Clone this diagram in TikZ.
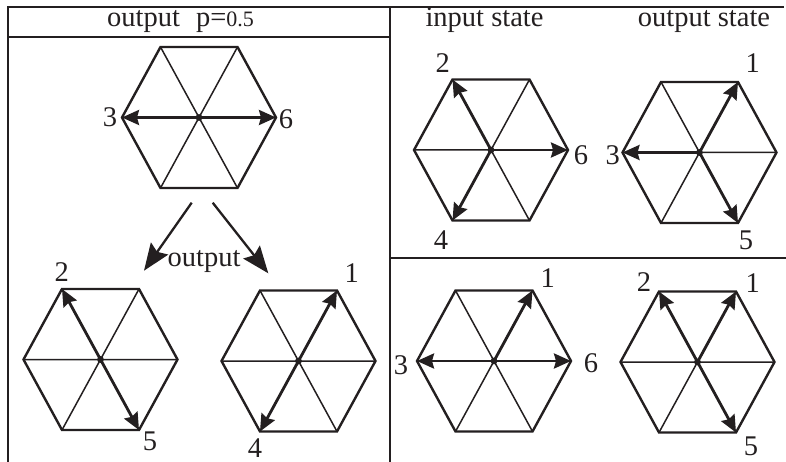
\documentclass[tikz,border=0pt]{standalone}
\usepackage{fontspec}
\setmainfont{Liberation Serif}
\usetikzlibrary{arrows.meta}
\definecolor{ink}{RGB}{35,31,32}
\tikzset{
  frameline/.style={draw=ink,line width=2.2pt},
  hexline/.style={draw=ink,line width=2.4pt,line join=miter},
  spoke/.style={draw=ink,line width=1.5pt},
  vec/.style={draw=ink,line width=2.8pt,-{Stealth[length=17pt,width=15pt,inset=2pt]}},
  bigarrow/.style={draw=ink,line width=2.3pt,-{Stealth[length=27pt,width=21pt,inset=4pt]}},
  lbl/.style={text=ink,font=\fontsize{28.5}{30}\selectfont,inner sep=0pt},
}
\newcommand{\mkhex}[3]{%
  \coordinate (#1-c) at (#2,#3);
  \coordinate (#1-1) at ({#2+38.5},{#3-70.5});
  \coordinate (#1-2) at ({#2-38.5},{#3-70.5});
  \coordinate (#1-3) at ({#2-77},{#3});
  \coordinate (#1-4) at ({#2-38.5},{#3+70.5});
  \coordinate (#1-5) at ({#2+38.5},{#3+70.5});
  \coordinate (#1-6) at ({#2+77},{#3});
  \draw[spoke] (#1-1)--(#1-4) (#1-2)--(#1-5) (#1-3)--(#1-6);
  \draw[hexline] (#1-1)--(#1-2)--(#1-3)--(#1-4)--(#1-5)--(#1-6)--cycle;
  \fill[ink] (#1-c) circle[radius=3.4pt];
}
\begin{document}
\begin{tikzpicture}[x=1pt,y=-1pt]
\useasboundingbox (0,0) rectangle (786,462);
% frame
\draw[frameline] (8,462) -- (8,7) -- (784,7);
\draw[frameline] (8,37) -- (390,37);
\draw[frameline] (390,7) -- (390,462);
\draw[frameline] (390,258) -- (786,258);
% headers
\node[lbl,anchor=base] (t1) at (180.5,27) {output\hspace{16pt}p=\fontsize{22}{24}\selectfont 0.5};
\node[lbl,anchor=base] (t2) at (484.5,27) {input state};
\node[lbl,anchor=base] (t3) at (704,27) {output state};
% hexagons
\mkhex{A}{199}{117.5}
\mkhex{B}{491}{150}
\mkhex{C}{699.5}{152.5}
\mkhex{D}{100.5}{359.5}
\mkhex{E}{298.5}{361}
\mkhex{F}{494}{361}
\mkhex{G}{697.5}{362}
% vectors
\draw[vec] (A-c) -- (A-3);
\draw[vec] (A-c) -- (A-6);
\draw[vec] (B-c) -- (B-2);
\draw[vec] (B-c) -- (B-6);
\draw[vec] (B-c) -- (B-4);
\draw[vec] (C-c) -- (C-1);
\draw[vec] (C-c) -- (C-3);
\draw[vec] (C-c) -- (C-5);
\draw[vec] (D-c) -- (D-2);
\draw[vec] (D-c) -- (D-5);
\draw[vec] (E-c) -- (E-1);
\draw[vec] (E-c) -- (E-4);
\draw[vec] (F-c) -- (F-1);
\draw[vec] (F-c) -- (F-3);
\draw[vec] (F-c) -- (F-6);
\draw[vec] (G-c) -- (G-2);
\draw[vec] (G-c) -- (G-1);
\draw[vec] (G-c) -- (G-5);
% branching arrows
\coordinate (s1) at (191.7,202.7);
\coordinate (e1) at (144,270.7);
\coordinate (s2) at (212.7,202.7);
\coordinate (e2) at (268.3,273.3);
\draw[bigarrow] (s1) -- (e1);
\draw[bigarrow] (s2) -- (e2);
\node[lbl,anchor=base] (mid) at (204,266.7) {output};
% digit labels
\node[lbl] (A3) at (110,117) {3};
\node[lbl] (A6) at (286,119) {6};
\node[lbl] (B2) at (442.7,63) {2};
\node[lbl] (B6) at (581,155) {6};
\node[lbl] (B4) at (441,240) {4};
\node[lbl] (C1) at (752.7,63) {1};
\node[lbl] (C3) at (612.7,155) {3};
\node[lbl] (C5) at (746,240) {5};
\node[lbl] (D2) at (61.7,272) {2};
\node[lbl] (D5) at (150,441.7) {5};
\node[lbl] (E1) at (351.7,273) {1};
\node[lbl] (E4) at (255,448) {4};
\node[lbl] (F1) at (547.7,278) {1};
\node[lbl] (F3) at (401,365) {3};
\node[lbl] (F6) at (591,363) {6};
\node[lbl] (G2) at (644,281.7) {2};
\node[lbl] (G1) at (752.7,283) {1};
\node[lbl] (G5) at (751,446.7) {5};
\end{tikzpicture}
\end{document}
